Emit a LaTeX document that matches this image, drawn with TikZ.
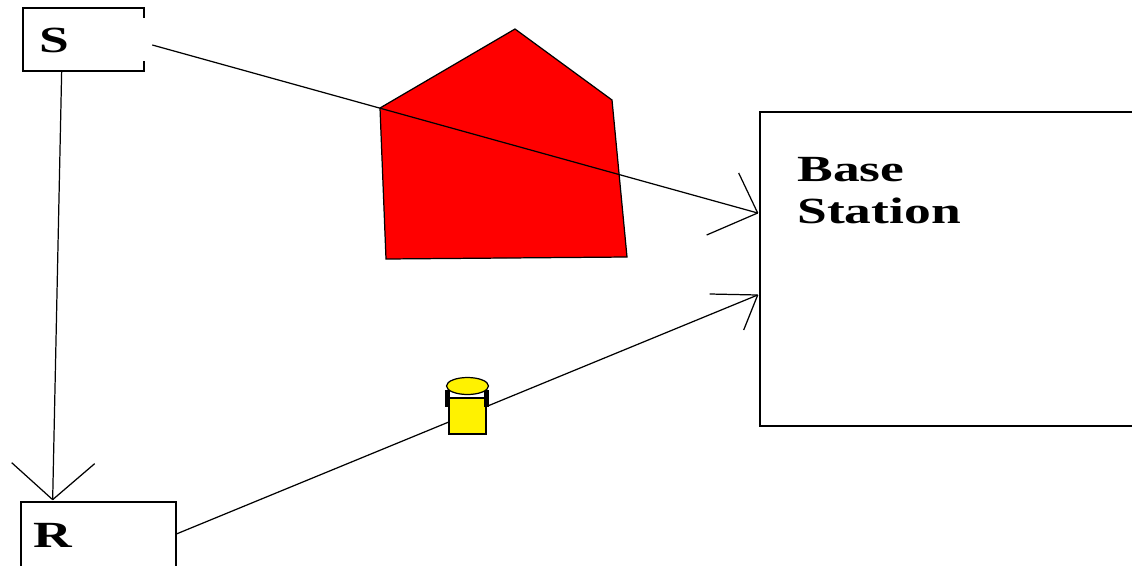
\documentclass[tikz,border=0pt]{standalone}
\usepackage{fontspec}
\newfontfamily\labfont[FakeStretch=1.45]{Liberation Serif}
\usetikzlibrary{calc}
\begin{document}
\begin{tikzpicture}[x=0.02cm,y=-0.02cm,
  box/.style={draw=none, rectangle, inner sep=0pt},
  lab/.style={font=\labfont\bfseries\fontsize{21}{23.8}\selectfont, inner sep=0pt, align=left},
  wire/.style={line width=0.7pt, black},
  edge/.style={line width=1pt, black}]
\clip (0,0) rectangle (1132,565);
\fill[white] (0,0) rectangle (1132,565);

% nodes
\node[box, minimum width=2.42cm, minimum height=1.26cm] (S) at (83.5,39.5) {};
\node[box, minimum width=3.1cm, minimum height=1.72cm] (R) at (98.5,545) {};
\node[box, minimum width=7.6cm, minimum height=6.28cm] (BS) at (950,269) {};

% node outlines
\draw[edge] ($(S.north east)+(0,10)$) -- (S.north east) -- (S.north west) -- (S.south west) -- (S.south east) -- ++(0,-10);
\draw[edge] (R.north west) rectangle (R.south east);
\draw[edge] (BS.north west) rectangle (BS.south east);

% texts
\node[lab, anchor=base west] (Stext) at (39,52) {S};
\node[lab, anchor=base west] (Rtext) at (33,547) {R};
\node[lab, anchor=north west] (BStext) at (797,157) {Base\\Station};

% obstacle (house)
\filldraw[fill=red, draw=black, line width=0.7pt] (515,29) -- (612,100) -- (627,257) -- (386,259) -- (380,108) -- cycle;

% S -> BS
\coordinate (t1) at ($(BS.west)+(-2,-56)$);
\draw[wire] ($(S.east)+(8,5.5)$) -- (t1);
\draw[wire] (t1) -- ++(-19,-40);
\draw[wire] (t1) -- ++(-51,22);

% S -> R
\coordinate (t2) at ($(R.north west)+(32,-2)$);
\draw[wire] ($(S.south west)+(39,0)$) -- (t2);
\draw[wire] (t2) -- ++(-41,-37);
\draw[wire] (t2) -- ++(42,-36);

% R -> BS
\coordinate (t3) at ($(BS.west)+(-2,26)$);
\draw[wire] ($(R.east)+(0,-11)$) -- (t3);
\draw[wire] (t3) -- ++(-48,-1);
\draw[wire] (t3) -- ++(-14,35);

% relay cylinder
\filldraw[fill=yellow, draw=black, line width=0.7pt] (449,398) rectangle (486,434);
\draw[line width=2.4pt] (447.5,390) -- (447.5,407);
\draw[line width=2.4pt] (486.5,390) -- (486.5,407);
\filldraw[fill=yellow, draw=black, line width=0.7pt] (467.5,386) ellipse [x radius=21, y radius=8.5];
\end{tikzpicture}
\end{document}
